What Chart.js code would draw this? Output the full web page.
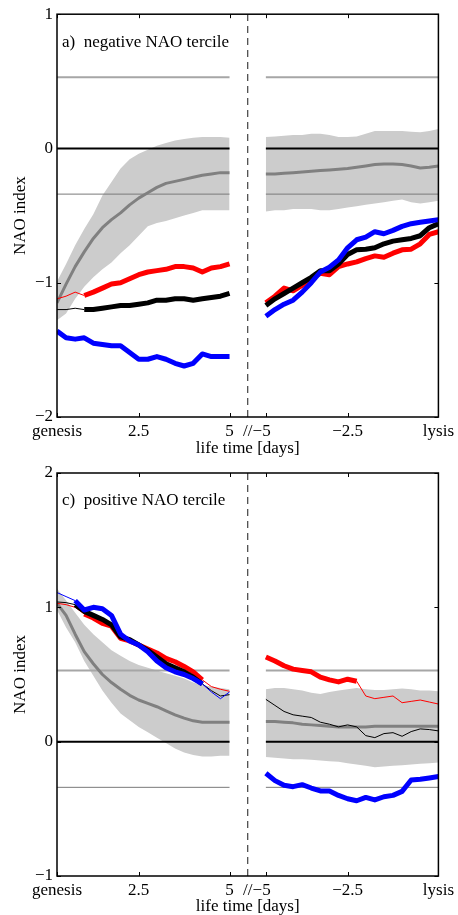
<!DOCTYPE html>
<html>
<head>
<meta charset="utf-8">
<script src="https://cdn.jsdelivr.net/npm/chart.js@4.4.1/dist/chart.umd.min.js"></script>
<style>
  html, body { margin: 0; padding: 0; background: #fff; }
  #wrap { position: relative; width: 458px; height: 915px; }
  canvas { position: absolute; left: 0; }
  #top { top: 0; }
  #bottom { top: 457px; }
</style>
</head>
<body>
<div id="wrap">
  <canvas id="top" width="458" height="457"></canvas>
  <canvas id="bottom" width="458" height="458"></canvas>
</div>
<script>
// Time axis (6-hourly steps, genesis part then lysis part) ---------------------------------

const LEFT_STEPS = [1, 2, 3, 4, 5, 6, 7, 8, 9, 10, 11, 12, 13, 14, 15, 16, 17, 18, 19, 20];
const RIGHT_STEPS = [24, 25, 26, 27, 28, 29, 30, 31, 32, 33, 34, 35, 36, 37, 38, 39, 40, 41, 42, 43];
const BREAK_STEP = 22;
const TICK_STEPS = [1, 10, 20, 22, 24, 33, 43];
const TICK_LABELS = ['genesis', '2.5', '5', '//', '\u22125  ', '\u22122.5', 'lysis'];

const TERCILE_UPPER = 0.53;
const TERCILE_LOWER = -0.34;

// a) negative NAO tercile (20 genesis values, then 20 lysis values) --------------------------

const negMean = [-1.15, -1.01, -0.88, -0.77, -0.67, -0.59, -0.53, -0.48, -0.42, -0.37,
                 -0.33, -0.29, -0.26, -0.245, -0.23, -0.215, -0.20, -0.19, -0.18, -0.18,
                 -0.19, -0.19, -0.185, -0.18, -0.175, -0.17, -0.165, -0.16, -0.155, -0.15,
                 -0.14, -0.13, -0.12, -0.115, -0.115, -0.12, -0.13, -0.145, -0.14, -0.13];
const negUpper = [-0.99, -0.86, -0.72, -0.60, -0.49, -0.35, -0.25, -0.15, -0.08, -0.04,
                  -0.01, 0.02, 0.04, 0.06, 0.07, 0.08, 0.085, 0.085, 0.085, 0.08,
                  0.085, 0.09, 0.095, 0.10, 0.10, 0.11, 0.11, 0.10, 0.085, 0.085,
                  0.09, 0.11, 0.13, 0.13, 0.13, 0.13, 0.125, 0.12, 0.13, 0.145];
const negLower = [-1.28, -1.23, -1.12, -1.03, -0.96, -0.90, -0.85, -0.78, -0.72, -0.65,
                  -0.58, -0.555, -0.54, -0.52, -0.50, -0.48, -0.46, -0.46, -0.46, -0.46,
                  -0.47, -0.46, -0.46, -0.45, -0.45, -0.45, -0.46, -0.46, -0.45, -0.44,
                  -0.43, -0.42, -0.41, -0.40, -0.39, -0.38, -0.40, -0.41, -0.40, -0.39];
const negRed = [-1.12, -1.10, -1.07, -1.095, -1.07, -1.04, -1.01, -1.00, -0.97, -0.94,
                -0.92, -0.91, -0.90, -0.88, -0.88, -0.89, -0.92, -0.89, -0.88, -0.86,
                -1.15, -1.10, -1.04, -1.06, -1.02, -0.97, -0.93, -0.94, -0.88, -0.86,
                -0.845, -0.82, -0.80, -0.81, -0.78, -0.755, -0.75, -0.71, -0.64, -0.62];
const negBlack = [-1.20, -1.20, -1.19, -1.20, -1.20, -1.19, -1.18, -1.17, -1.17, -1.16,
                  -1.15, -1.13, -1.13, -1.12, -1.12, -1.13, -1.12, -1.11, -1.10, -1.08,
                  -1.17, -1.12, -1.08, -1.04, -1.00, -0.96, -0.91, -0.91, -0.86, -0.79,
                  -0.755, -0.75, -0.74, -0.71, -0.69, -0.68, -0.67, -0.65, -0.59, -0.56];
const negBlue = [-1.36, -1.41, -1.42, -1.41, -1.45, -1.46, -1.47, -1.47, -1.52, -1.57,
                 -1.57, -1.55, -1.57, -1.60, -1.62, -1.60, -1.53, -1.55, -1.55, -1.55,
                 -1.25, -1.20, -1.16, -1.13, -1.07, -1.00, -0.92, -0.885, -0.83, -0.74,
                 -0.68, -0.66, -0.62, -0.635, -0.61, -0.58, -0.56, -0.55, -0.54, -0.53];
// 1 = significant (thick line), 0 = not significant (thin line)
const negRedSig = [0, 0, 0, 1, 1, 1, 1, 1, 1, 1, 1, 1, 1, 1, 1, 1, 1, 1, 1, 1,
                   1, 1, 1, 1, 1, 1, 1, 1, 1, 1, 1, 1, 1, 1, 1, 1, 1, 1, 1, 1];
const negBlackSig = [0, 0, 0, 1, 1, 1, 1, 1, 1, 1, 1, 1, 1, 1, 1, 1, 1, 1, 1, 1,
                     1, 1, 1, 1, 1, 1, 1, 1, 1, 1, 1, 1, 1, 1, 1, 1, 1, 1, 1, 1];
const negBlueSig = [1, 1, 1, 1, 1, 1, 1, 1, 1, 1, 1, 1, 1, 1, 1, 1, 1, 1, 1, 1,
                    1, 1, 1, 1, 1, 1, 1, 1, 1, 1, 1, 1, 1, 1, 1, 1, 1, 1, 1, 1];

// c) positive NAO tercile ------------------------------------------------------------------

const posMean = [1.03, 0.94, 0.80, 0.67, 0.58, 0.50, 0.44, 0.39, 0.345, 0.31,
                 0.285, 0.26, 0.23, 0.20, 0.175, 0.155, 0.145, 0.145, 0.145, 0.145,
                 0.15, 0.15, 0.145, 0.14, 0.13, 0.125, 0.12, 0.115, 0.11, 0.11,
                 0.11, 0.11, 0.115, 0.115, 0.115, 0.115, 0.115, 0.115, 0.115, 0.115];
const posUpper = [1.14, 1.05, 0.96, 0.87, 0.80, 0.74, 0.68, 0.64, 0.60, 0.57,
                  0.55, 0.53, 0.51, 0.49, 0.47, 0.44, 0.42, 0.41, 0.40, 0.39,
                  0.39, 0.40, 0.40, 0.39, 0.38, 0.365, 0.355, 0.37, 0.38, 0.39,
                  0.40, 0.39, 0.385, 0.385, 0.39, 0.395, 0.39, 0.38, 0.38, 0.375];
const posLower = [0.98, 0.85, 0.74, 0.60, 0.49, 0.38, 0.29, 0.21, 0.16, 0.11,
                  0.07, 0.03, -0.01, -0.05, -0.08, -0.10, -0.11, -0.11, -0.105, -0.105,
                  -0.115, -0.12, -0.125, -0.13, -0.13, -0.135, -0.14, -0.145, -0.15, -0.16,
                  -0.17, -0.18, -0.19, -0.185, -0.18, -0.175, -0.17, -0.165, -0.16, -0.155];
const posRed = [1.03, 1.02, 1.00, 0.95, 0.92, 0.88, 0.86, 0.77, 0.75, 0.72,
                0.69, 0.66, 0.62, 0.595, 0.56, 0.52, 0.46, 0.41, 0.39, 0.375,
                0.63, 0.60, 0.565, 0.54, 0.53, 0.52, 0.48, 0.46, 0.445, 0.465,
                0.45, 0.34, 0.32, 0.33, 0.34, 0.29, 0.30, 0.31, 0.295, 0.28];
const posBlack = [1.04, 1.035, 1.02, 0.97, 0.94, 0.91, 0.87, 0.78, 0.76, 0.72,
                  0.68, 0.63, 0.58, 0.55, 0.52, 0.48, 0.43, 0.38, 0.34, 0.35,
                  0.315, 0.27, 0.225, 0.20, 0.19, 0.18, 0.145, 0.13, 0.11, 0.125,
                  0.11, 0.045, 0.03, 0.06, 0.067, 0.04, 0.075, 0.095, 0.09, 0.08];
const posBlue = [1.11, 1.08, 1.05, 0.98, 1.00, 0.99, 0.94, 0.80, 0.75, 0.72,
                 0.67, 0.60, 0.55, 0.52, 0.50, 0.47, 0.43, 0.37, 0.32, 0.37,
                 -0.235, -0.29, -0.325, -0.335, -0.32, -0.345, -0.367, -0.367, -0.40, -0.425,
                 -0.44, -0.415, -0.434, -0.41, -0.40, -0.37, -0.285, -0.28, -0.27, -0.26];
const posRedSig = [0, 0, 0, 1, 1, 1, 1, 1, 1, 1, 1, 1, 1, 1, 1, 1, 1, 0, 0, 0,
                   1, 1, 1, 1, 1, 1, 1, 1, 1, 1, 1, 0, 0, 0, 0, 0, 0, 0, 0, 0];
const posBlackSig = [0, 0, 1, 1, 1, 1, 1, 1, 1, 1, 1, 1, 1, 1, 1, 1, 1, 0, 0, 0,
                     0, 0, 0, 0, 0, 0, 0, 0, 0, 0, 0, 0, 0, 0, 0, 0, 0, 0, 0, 0];
const posBlueSig = [0, 0, 1, 1, 1, 1, 1, 1, 1, 1, 1, 1, 1, 1, 1, 1, 1, 0, 0, 0,
                    1, 1, 1, 1, 1, 1, 1, 1, 1, 1, 1, 1, 1, 1, 1, 1, 1, 1, 1, 1];

// Styling ----------------------------------------------------------------------------------

const FONT = '"Liberation Serif", "DejaVu Serif", serif';
const FONT_SIZE = 17;
const THICK = 5;
const THIN = 1;
const BAND_COLOR = '#cccccc';
const MEAN_COLOR = '#808080';

// Dataset builders -------------------------------------------------------------------------

let toPoints = function (values, steps) {
    return steps.map(function (s, i) { return { x: s, y: values[i] }; });
};

let sections = function (values) {
    return [toPoints(values.slice(0, 20), LEFT_STEPS), toPoints(values.slice(20), RIGHT_STEPS)];
};

let plainLine = function (data, color, width, order, dash) {
    return {
        data: data,
        borderColor: color,
        borderWidth: width,
        borderDash: dash || [],
        pointRadius: 0,
        fill: false,
        tension: 0,
        order: order
    };
};

let sigLines = function (values, sig, color, order) {
    let flags = [sig.slice(0, 20), sig.slice(20)];
    return sections(values).map(function (pts, k) {
        let ds = plainLine(pts, color, THICK, order);
        ds.borderJoinStyle = 'round';
        ds.segment = {
            borderWidth: function (c) {
                return (flags[k][c.p0DataIndex] && flags[k][c.p1DataIndex]) ? THICK : THIN;
            }
        };
        return ds;
    });
};

let buildDatasets = function (p, yMin, yMax) {
    let sets = [];

    // blue on top, then black, red, mean, reference lines, band underneath
    sets = sets.concat(sigLines(p.blue, p.blueSig, '#0000ff', 1));
    sets = sets.concat(sigLines(p.black, p.blackSig, '#000000', 2));
    sets = sets.concat(sigLines(p.red, p.redSig, '#ff0000', 3));

    sections(p.mean).forEach(function (pts) {
        let ds = plainLine(pts, MEAN_COLOR, 3, 4);
        ds.borderJoinStyle = 'round';
        sets.push(ds);
    });

    [LEFT_STEPS, RIGHT_STEPS].forEach(function (steps) {
        let a = steps[0], b = steps[steps.length - 1];
        sets.push(plainLine([{ x: a, y: 0 }, { x: b, y: 0 }], '#000000', 2, 5));
        sets.push(plainLine([{ x: a, y: TERCILE_UPPER }, { x: b, y: TERCILE_UPPER }], '#a6a6a6', 2, 6));
        sets.push(plainLine([{ x: a, y: TERCILE_LOWER }, { x: b, y: TERCILE_LOWER }], '#7a7a7a', 1, 6));
    });

    sets.push(plainLine([{ x: BREAK_STEP, y: yMin }, { x: BREAK_STEP, y: yMax }], '#404040', 1.2, 5, [7, 5]));

    let lower = sections(p.lower);
    let upper = sections(p.upper);
    for (let k = 0; k < 2; k++) {
        let lo = plainLine(lower[k], 'rgba(0,0,0,0)', 0, 7);
        let up = plainLine(upper[k], 'rgba(0,0,0,0)', 0, 7);
        up.fill = '-1';
        up.backgroundColor = BAND_COLOR;
        sets.push(lo);
        sets.push(up);
    }
    return sets;
};

// Frame, inward ticks and panel label ------------------------------------------------------

const framePlugin = {
    id: 'frame',
    afterDraw: function (chart, args, opts) {
        let ctx = chart.ctx;
        let a = chart.chartArea;
        let x = chart.scales.x;
        let y = chart.scales.y;
        ctx.save();
        ctx.strokeStyle = '#000';
        ctx.lineWidth = 1.5;
        ctx.strokeRect(a.left, a.top, a.right - a.left, a.bottom - a.top);

        ctx.lineWidth = 1;
        ctx.beginPath();
        TICK_STEPS.forEach(function (s) {
            if (s === BREAK_STEP) return;
            let px = Math.round(x.getPixelForValue(s)) + 0.5;
            ctx.moveTo(px, a.bottom); ctx.lineTo(px, a.bottom - 4);
            ctx.moveTo(px, a.top); ctx.lineTo(px, a.top + 4);
        });
        y.ticks.forEach(function (t) {
            let py = Math.round(y.getPixelForValue(t.value)) + 0.5;
            ctx.moveTo(a.left, py); ctx.lineTo(a.left + 4, py);
            ctx.moveTo(a.right, py); ctx.lineTo(a.right - 4, py);
        });
        ctx.stroke();

        ctx.fillStyle = '#000';
        ctx.font = FONT_SIZE + 'px ' + FONT;
        ctx.textBaseline = 'middle';
        ctx.textAlign = 'left';
        ctx.fillText(opts.label, a.left + 5, a.top + 28);
        ctx.restore();
    }
};

let makeChart = function (canvasId, label, panel, yMin, yMax, padTop) {
    let canvas = document.getElementById(canvasId);
    return new Chart(canvas.getContext('2d'), {
        type: 'line',
        data: { datasets: buildDatasets(panel, yMin, yMax) },
        plugins: [framePlugin],
        options: {
            responsive: false,
            devicePixelRatio: 1,
            animation: false,
            events: [],
            layout: { padding: { top: padTop, right: 17, left: 0, bottom: 0 } },
            plugins: {
                legend: { display: false },
                tooltip: { enabled: false },
                frame: { label: label }
            },
            scales: {
                x: {
                    type: 'linear',
                    min: 1,
                    max: 43,
                    grid: { display: false, drawTicks: false },
                    border: { display: false },
                    afterBuildTicks: function (scale) {
                        scale.ticks = TICK_STEPS.map(function (v) { return { value: v }; });
                    },
                    afterFit: function (scale) {
                        scale.height = canvas.height - padTop - 403;
                    },
                    ticks: {
                        autoSkip: false,
                        maxRotation: 0,
                        padding: 4,
                        color: '#000',
                        font: { family: FONT, size: FONT_SIZE },
                        callback: function (v, i) { return TICK_LABELS[i]; }
                    },
                    title: {
                        display: true,
                        text: 'life time [days]',
                        color: '#000',
                        font: { family: FONT, size: FONT_SIZE, lineHeight: 1.0 },
                        padding: { top: 0, bottom: 0 }
                    }
                },
                y: {
                    min: yMin,
                    max: yMax,
                    grid: { display: false, drawTicks: false },
                    border: { display: false },
                    afterFit: function (scale) { scale.width = 57; },
                    ticks: {
                        stepSize: 1,
                        padding: 4,
                        color: '#000',
                        font: { family: FONT, size: FONT_SIZE },
                        callback: function (v) { return v < 0 ? '\u2212' + Math.abs(v) : String(v); }
                    },
                    title: {
                        display: true,
                        text: 'NAO index',
                        color: '#000',
                        font: { family: FONT, size: FONT_SIZE },
                        padding: { top: 10, bottom: 0 }
                    }
                }
            }
        }
    });
};

makeChart('top', 'a)  negative NAO tercile', {
    mean: negMean, upper: negUpper, lower: negLower,
    red: negRed, black: negBlack, blue: negBlue,
    redSig: negRedSig, blackSig: negBlackSig, blueSig: negBlueSig
}, -2, 1, 14);

makeChart('bottom', 'c)  positive NAO tercile', {
    mean: posMean, upper: posUpper, lower: posLower,
    red: posRed, black: posBlack, blue: posBlue,
    redSig: posRedSig, blackSig: posBlackSig, blueSig: posBlueSig
}, -1, 2, 16);
</script>
</body>
</html>
